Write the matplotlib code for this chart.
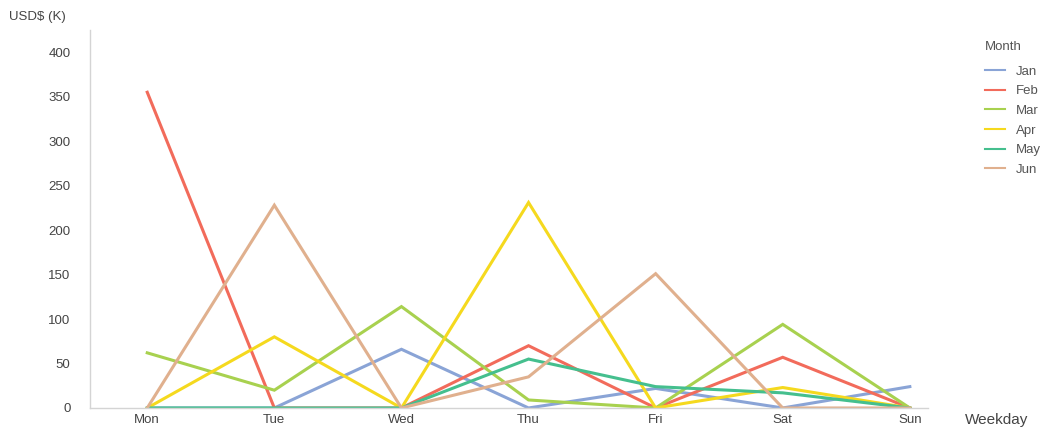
import numpy as np
import matplotlib
matplotlib.use('Agg')
import matplotlib.pyplot as plt

plt.rcParams['font.family'] = ['Liberation Sans', 'DejaVu Sans']

# Weekday sales per month, USD thousands
weekdays = ['Mon', 'Tue', 'Wed', 'Thu', 'Fri', 'Sat', 'Sun']
months = ['Jan', 'Feb', 'Mar', 'Apr', 'May', 'Jun']

jan = [0, 0, 66, 0, 22, 0, 24]
feb = [355, 0, 0, 70, 0, 57, 0]
mar = [62, 20, 114, 9, 0, 94, 0]
apr = [0, 80, 0, 231, 0, 23, 0]
may = [0, 0, 0, 55, 24, 17, 0]
jun = [0, 228, 0, 35, 151, 0, 0]

series = [jan, feb, mar, apr, may, jun]
colors = ['#8aa4d6', '#f26b5b', '#a8d14f', '#f5d91e', '#45bf8e', '#e0b08e']

fig = plt.figure(figsize=(10.47, 4.32), dpi=100)
ax = fig.add_axes([0.086, 0.0556, 0.80, 0.875])

x = np.arange(len(weekdays))
for name, vals, c in zip(months, series, colors):
    ax.plot(x, vals, color=c, linewidth=2.2, label=name, solid_joinstyle='miter')

ax.set_xlim(-0.45, 6.14)
ax.set_ylim(0, 425)
ax.set_yticks(range(0, 401, 50))
ax.set_xticks(x)
ax.set_xticklabels(weekdays)

for side in ['top', 'right']:
    ax.spines[side].set_visible(False)
for side in ['left', 'bottom']:
    ax.spines[side].set_color('#d4d4d4')
    ax.spines[side].set_linewidth(1)
ax.tick_params(length=0, labelsize=9.5, colors='#444444')
ax.tick_params(axis='y', pad=14)
ax.tick_params(axis='x', pad=4)

fig.text(0.009, 0.960, 'USD$ (K)', fontsize=9.5, color='#444444', va='center')
fig.text(0.922, 0.028, 'Weekday', fontsize=11, color='#444444', va='center')

handles, labels = ax.get_legend_handles_labels()
leg = fig.legend(handles, labels, loc='upper left', bbox_to_anchor=(0.941, 0.905),
                 bbox_transform=fig.transFigure, frameon=False, borderpad=0,
                 borderaxespad=0, title='Month', fontsize=9.5, title_fontsize=9.5,
                 handlelength=1.5, handletextpad=0.8, labelspacing=0.56,
                 alignment='left')
leg._legend_box.sep = 9
for t in leg.get_texts():
    t.set_color('#555555')
leg.get_title().set_color('#555555')
for h in leg.get_lines():
    h.set_linewidth(1.5)

fig.savefig('out.png', dpi=100)
